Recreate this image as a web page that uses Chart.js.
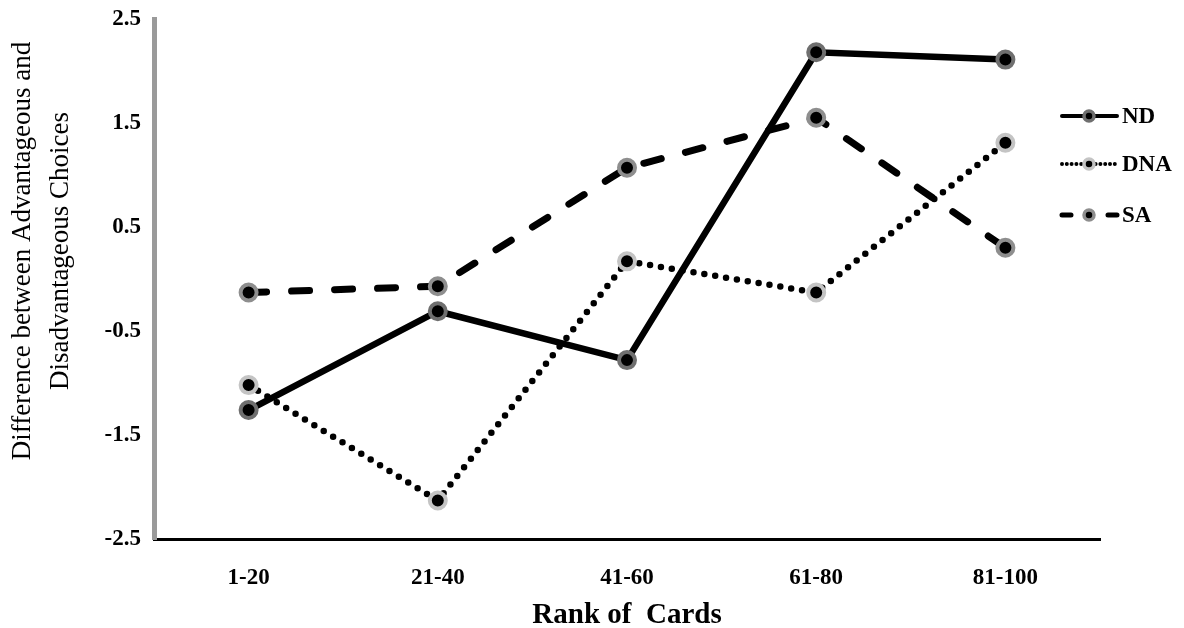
<!DOCTYPE html>
<html>
<head>
<meta charset="utf-8">
<script src="https://cdn.jsdelivr.net/npm/chart.js@4/dist/chart.umd.min.js"></script>
<style>
  html, body { margin: 0; padding: 0; background: #fff; }
  #wrap { width: 1184px; height: 628px; }
</style>
</head>
<body>
<div id="wrap"><canvas id="chartjs-0" width="1184" height="628"></canvas></div>
<script>
"use strict"

// values
var categories = ["1-20", "21-40", "41-60", "61-80", "81-100"];
var seriesNames = ["ND", "DNA", "SA"];
var ndValues = [-1.26, -0.31, -0.78, 2.18, 2.11];
var dnaValues = [-1.02, -2.13, 0.17, -0.13, 1.31];
var saValues = [-0.13, -0.07, 1.07, 1.55, 0.30];
var yMin = -2.5, yMax = 2.5, yStep = 1;
var yTitle = ["Difference between Advantageous and", "Disadvantageous Choices"];
var xTitle = "Rank of  Cards";

var serif = "'Liberation Serif', 'Times New Roman', serif";

// y title drawn by hand so it can sit a bit above the middle like the original
var yTitlePlugin = {
    id: "yTitle",
    afterDraw: function (chart) {
        var ctx = chart.ctx;
        ctx.save();
        ctx.font = "27px " + serif;
        ctx.fillStyle = "#000";
        ctx.textAlign = "center";
        ctx.textBaseline = "middle";
        ctx.translate(23, 251);
        ctx.rotate(-Math.PI / 2);
        for (var i = 0; i < yTitle.length; i++) {
            ctx.fillText(yTitle[i], 0, i * 38);
        }
        ctx.restore();
    }
};

// legend: short line with marker, then bold label
var legendPlugin = {
    id: "lineLegend",
    afterDraw: function (chart) {
        var ctx = chart.ctx;
        var rows = [116, 164, 215];
        chart.data.datasets.forEach(function (ds, i) {
            var y = rows[i];
            var x0 = 1062, xm = 1089, x1 = 1117;
            ctx.save();
            ctx.strokeStyle = "#000";
            ctx.lineWidth = ds.legendWidth;
            ctx.lineCap = "round";
            ctx.setLineDash(ds.legendDash);
            if (ds.legendDash.length && ds.legendDash[0] > 0) {
                // dashed: one dash each side of the marker
                ctx.beginPath();
                ctx.moveTo(x0, y);
                ctx.lineTo(xm - 10, y);
                ctx.moveTo(x1, y);
                ctx.lineTo(xm + 10, y);
                ctx.stroke();
            } else {
                ctx.beginPath();
                ctx.moveTo(x0, y);
                ctx.lineTo(x1, y);
                ctx.stroke();
            }
            ctx.setLineDash([]);
            ctx.beginPath();
            ctx.arc(xm, y, 5, 0, Math.PI * 2);
            ctx.fillStyle = "#000";
            ctx.fill();
            ctx.lineWidth = 3.5;
            ctx.strokeStyle = ds.pointBorderColor;
            ctx.stroke();
            ctx.fillStyle = "#000";
            ctx.font = "bold 23px " + serif;
            ctx.textAlign = "left";
            ctx.textBaseline = "middle";
            ctx.fillText(ds.label, 1122, y + 1);
            ctx.restore();
        });
    }
};

var ctx0 = document.getElementById("chartjs-0");
var myChart = new Chart(ctx0, {
    type: "line",
    data: {
        labels: categories,
        datasets: [
            {
                label: seriesNames[0],
                data: ndValues,
                borderColor: "#000",
                borderWidth: 6.5,
                pointRadius: 8,
                pointHoverRadius: 8,
                pointBorderWidth: 4,
                pointBackgroundColor: "#000",
                pointBorderColor: "#6f6f6f",
                tension: 0,
                legendWidth: 4,
                legendDash: []
            },
            {
                label: seriesNames[1],
                data: dnaValues,
                borderColor: "#000",
                borderWidth: 6.5,
                borderDash: [0, 11],
                borderCapStyle: "round",
                pointRadius: 8,
                pointHoverRadius: 8,
                pointBorderWidth: 4,
                pointBackgroundColor: "#000",
                pointBorderColor: "#c4c4c4",
                tension: 0,
                legendWidth: 4,
                legendDash: [0, 4.8]
            },
            {
                label: seriesNames[2],
                data: saValues,
                borderColor: "#000",
                borderWidth: 7,
                borderDash: [18, 25],
                borderCapStyle: "round",
                pointRadius: 8,
                pointHoverRadius: 8,
                pointBorderWidth: 4,
                pointBackgroundColor: "#000",
                pointBorderColor: "#8e8e8e",
                tension: 0,
                legendWidth: 5,
                legendDash: [9, 30]
            }
        ]
    },
    options: {
        responsive: false,
        animation: false,
        layout: { padding: { top: 19, right: 84, left: 0, bottom: 0 } },
        plugins: {
            legend: { display: false },
            tooltip: { enabled: false }
        },
        scales: {
            x: {
                offset: true,
                grid: { display: false, drawTicks: false },
                border: { display: true, color: "#000", width: 3 },
                ticks: {
                    color: "#000",
                    padding: 25,
                    font: { family: serif, size: 23, weight: "bold" }
                },
                title: {
                    display: true,
                    text: xTitle,
                    color: "#000",
                    padding: { top: 0, bottom: -5 },
                    font: { family: serif, size: 29, weight: "bold" }
                },
                afterFit: function (s) {
                    s.height = 89;
                    s.paddingLeft = 0;
                    s.paddingRight = 0;
                }
            },
            y: {
                min: yMin,
                max: yMax,
                grid: { display: false, drawTicks: false },
                border: { display: true, color: "#9a9a9a", width: 5 },
                ticks: {
                    stepSize: yStep,
                    color: "#000",
                    padding: 13,
                    font: { family: serif, size: 23, weight: "bold" },
                    callback: function (v) { return v.toFixed(1); }
                },
                afterFit: function (s) {
                    s.width = 154;
                    s.paddingTop = 0;
                    s.paddingBottom = 0;
                }
            }
        }
    },
    plugins: [yTitlePlugin, legendPlugin]
});
</script>
</body>
</html>
